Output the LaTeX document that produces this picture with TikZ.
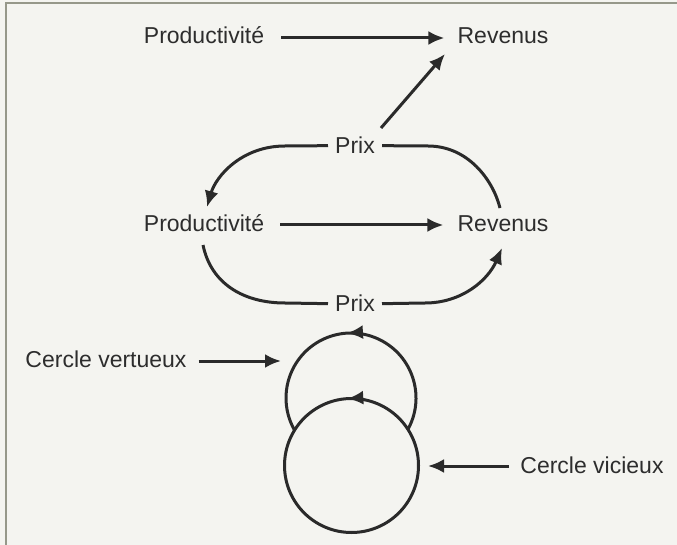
\documentclass[tikz,border=0pt]{standalone}
\usepackage{fontspec}
\setmainfont{Liberation Sans}
\usetikzlibrary{arrows.meta,decorations.markings}
\definecolor{bgc}{RGB}{244,244,240}
\definecolor{ink}{RGB}{42,42,42}
\definecolor{txt}{RGB}{45,45,45}
\definecolor{framec}{RGB}{150,152,138}
\begin{document}
\begin{tikzpicture}[x=1pt,y=1pt,
  lbl/.style={inner sep=0pt, anchor=base, text=txt, font=\fontsize{23}{27}\selectfont},
  link/.style={draw=ink, line width=3pt},
  tipx/.tip={Latex[length=16pt,width=14pt]},
  arr/.style={link, -tipx},
  cyc/.style={link, postaction={decorate}},
]
\useasboundingbox (0,0) rectangle (677,-545);
\fill[bgc] (0,0) rectangle (677,-545);
\draw[framec, line width=1.8pt] (677,-3) -- (6,-3) -- (6,-545);

% text nodes
\node[lbl] (p1) at (204,-44) {Productivité};
\node[lbl] (r1) at (503,-44) {Revenus};
\node[lbl] (prix1) at (355,-154) {Prix};
\node[lbl] (p2) at (204,-231.5) {Productivité};
\node[lbl] (r2) at (503,-231.5) {Revenus};
\node[lbl] (prix2) at (355,-312) {Prix};
\node[lbl] (cv) at (106,-367) {Cercle vertueux};
\node[lbl] (cvi) at (592,-473) {Cercle vicieux};

% free ends near the circles
\coordinate (vtip) at (281,-361);
\coordinate (vitip) at (428,-466);

% top row
\draw[arr] ([shift={(17,6)}]p1.base east) -- ([shift={(-13,6)}]r1.base west);
\draw[arr] ([shift={(26,26)}]prix1.base) -- ([shift={(-58,-10)}]r1.base);

% middle loop
\draw[arr] ([xshift=-7]prix1.west) -- (285,-146)
  .. controls (242,-146) and (216,-176) .. ([shift={(3,24.5)}]p2.base);
\draw[link] ([xshift=7]prix1.east) -- (428,-146)
  .. controls (468,-146) and (493,-180) .. ([shift={(-3,23.5)}]r2.base);
\draw[arr] ([shift={(16,6.5)}]p2.base east) -- ([shift={(-14,6.5)}]r2.base west);
\draw[link] ([shift={(-1,-13.5)}]p2.base)
  .. controls (211,-284) and (244,-303) .. (285,-303) -- ([xshift=-7]prix2.west);
\draw[arr] ([xshift=7]prix2.east) -- (425,-303)
  .. controls (462,-303) and (488,-280) .. ([shift={(-1,-16.5)}]r2.base);

% circles
\draw[cyc, decoration={markings, mark=at position 0.515 with {\arrow{tipx}}}]
  (351,-398) ++(-29.3:65) arc[start angle=-29.3, end angle=209.3, radius=65];
\draw[cyc, decoration={markings, mark=at position 0.26 with {\arrow{tipx}}}]
  (351.5,-465.5) ++(0:67) arc[start angle=0, end angle=360, radius=67];

% pointers to the circles
\draw[arr] ([shift={(12,6)}]cv.base east) -- (vtip);
\draw[arr] ([shift={(-11,7)}]cvi.base west) -- (vitip);
\end{tikzpicture}
\end{document}
